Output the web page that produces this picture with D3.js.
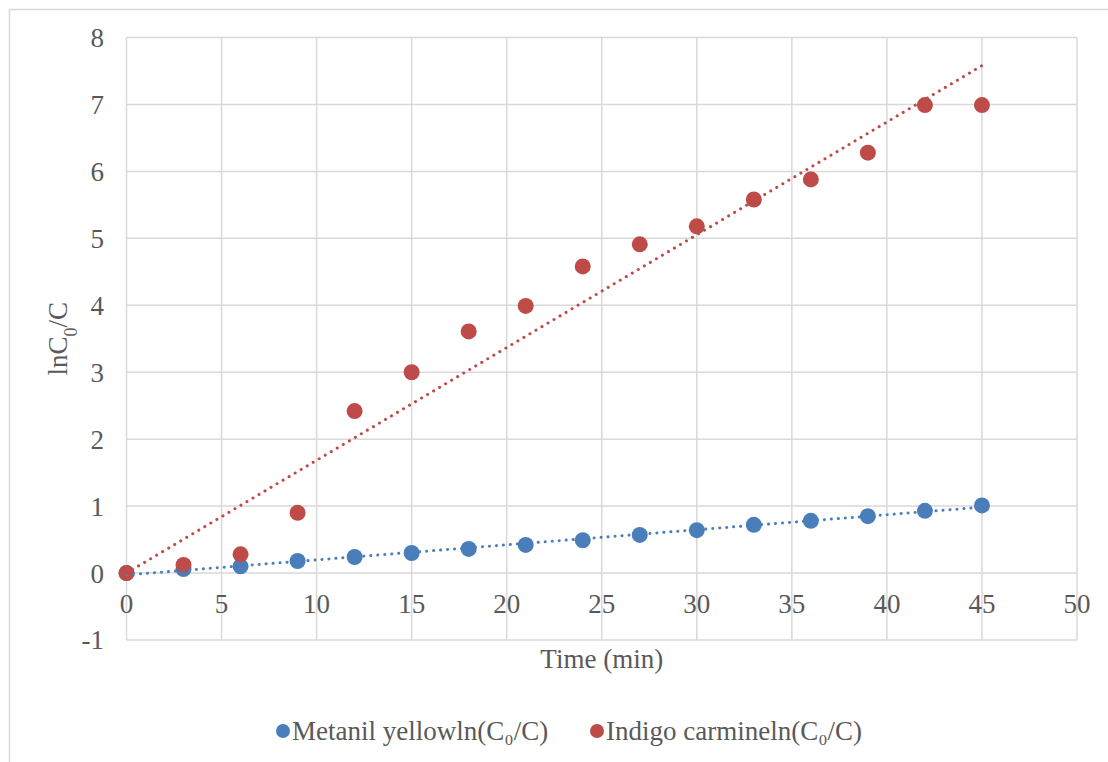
<!DOCTYPE html>
<html>
<head>
<meta charset="utf-8">
<style>
  body { margin: 0; background: #fff; }
  text { font-family: "Liberation Serif", "Times New Roman", serif; fill: #595959; }
  .grid line { stroke: #d9d9d9; stroke-width: 1.5px; }
</style>
</head>
<body>
<svg width="1108" height="762"></svg>
<script src="https://cdn.jsdelivr.net/npm/d3@7"></script>
<script>
var time = [0, 3, 6, 9, 12, 15, 18, 21, 24, 27, 30, 33, 36, 39, 42, 45];
var metanil = [0, 0.06, 0.10, 0.18, 0.24, 0.30, 0.36, 0.42, 0.49, 0.57, 0.64, 0.72, 0.78, 0.85, 0.93, 1.01];
var indigo = [0, 0.12, 0.28, 0.90, 2.42, 3.00, 3.61, 3.99, 4.58, 4.91, 5.18, 5.58, 5.88, 6.28, 6.99, 6.99];
var xTicks = [0, 5, 10, 15, 20, 25, 30, 35, 40, 45, 50];
var yTicks = [-1, 0, 1, 2, 3, 4, 5, 6, 7, 8];
var seriesNames = ["Metanil yellowln(C₀/C)", "Indigo carmineln(C₀/C)"];
var colors = ["#4a7ebb", "#be4b48"];

var svg = d3.select("svg");
var fs = "27px";

// outer chart frame (right/bottom edges fall outside the window)
svg.append("path")
    .attr("d", "M9.5,762V9.5H1108")
    .attr("fill", "none")
    .attr("stroke", "#d9d9d9")
    .attr("stroke-width", 1.5);

var x = d3.scaleLinear().domain([0, 50]).range([126.5, 1077]);
var y = d3.scaleLinear().domain([-1, 8]).range([640, 37.5]);

var grid = svg.append("g").attr("class", "grid");
grid.selectAll(".h").data(yTicks).enter().append("line")
    .attr("x1", x(0)).attr("x2", x(50))
    .attr("y1", function(d) { return y(d); }).attr("y2", function(d) { return y(d); });
grid.selectAll(".v").data(xTicks).enter().append("line")
    .attr("y1", y(-1)).attr("y2", y(8))
    .attr("x1", function(d) { return x(d); }).attr("x2", function(d) { return x(d); });

// y tick labels
svg.append("g").selectAll("text").data(yTicks).enter().append("text")
    .attr("x", 104).attr("y", function(d) { return y(d); })
    .attr("dy", "0.35em")
    .attr("text-anchor", "end")
    .style("font-size", fs)
    .text(function(d) { return d; });

// x tick labels below the zero line
svg.append("g").selectAll("text").data(xTicks).enter().append("text")
    .attr("x", function(d) { return x(d); }).attr("y", y(0) + 40)
    .attr("text-anchor", "middle")
    .style("font-size", fs)
    .text(function(d) { return d; });

// axis titles
svg.append("text")
    .attr("x", x(25)).attr("y", 668)
    .attr("text-anchor", "middle")
    .style("font-size", fs)
    .text("Time (min)");

var yt = svg.append("text")
    .attr("transform", "translate(67," + y(3.5) + ") rotate(-90)")
    .attr("text-anchor", "middle")
    .style("font-size", fs);
yt.append("tspan").text("lnC");
yt.append("tspan").attr("baseline-shift", "sub").style("font-size", "18px").text("0");
yt.append("tspan").text("/C");

// trendlines: metanil ordinary least squares, indigo through origin
function fitOls(xs, ys) {
  var mx = d3.mean(xs), my = d3.mean(ys), sxy = 0, sxx = 0;
  xs.forEach(function(v, i) { sxy += (v - mx) * (ys[i] - my); sxx += (v - mx) * (v - mx); });
  var b = sxy / sxx;
  return [b, my - b * mx];
}
function fitOrigin(xs, ys) {
  var sxy = 0, sxx = 0;
  xs.forEach(function(v, i) { sxy += v * ys[i]; sxx += v * v; });
  return [sxy / sxx, 0];
}
var fits = [fitOls(time, metanil), fitOrigin(time, indigo)];
var data = [metanil, indigo];

var line = d3.line().x(function(d) { return x(d[0]); }).y(function(d) { return y(d[1]); });
var tMin = d3.min(time), tMax = d3.max(time);

[0, 1].forEach(function(s) {
  svg.append("g").selectAll("circle").data(time).enter().append("circle")
      .attr("cx", function(d) { return x(d); })
      .attr("cy", function(d, i) { return y(data[s][i]); })
      .attr("r", 8)
      .attr("fill", colors[s]);
});

[0, 1].forEach(function(s) {
  var f = fits[s];
  svg.append("path")
      .attr("d", line([[tMin, f[0] * tMin + f[1]], [tMax, f[0] * tMax + f[1]]]))
      .attr("fill", "none")
      .attr("stroke", colors[s])
      .attr("stroke-width", 3)
      .attr("stroke-linecap", "round")
      .attr("stroke-dasharray", "0.1 6.9");
});

// legend
var legX = [283, 597];
var leg = svg.append("g").selectAll("g").data(seriesNames).enter().append("g")
    .attr("transform", function(d, i) { return "translate(" + legX[i] + ",731)"; });
leg.append("circle").attr("r", 7).attr("fill", function(d, i) { return colors[i]; });
leg.append("text").attr("x", 9).attr("dy", "0.35em")
    .style("font-size", fs)
    .text(function(d) { return d; });
</script>
</body>
</html>
